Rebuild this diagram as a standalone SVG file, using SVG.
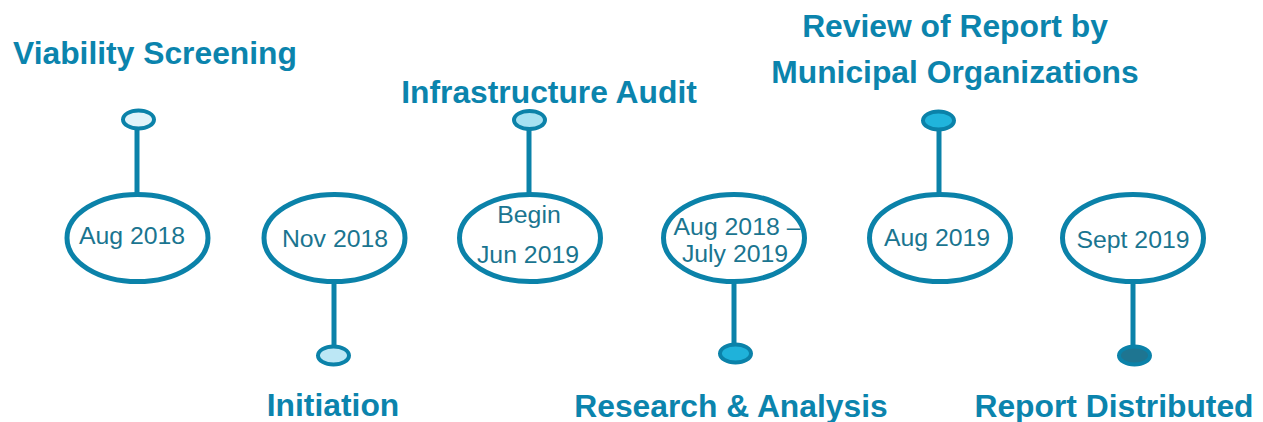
<svg xmlns="http://www.w3.org/2000/svg" width="1263" height="422" viewBox="0 0 1263 422">
  <style>
    .date { fill: #ffffff; stroke: #0b82a9; stroke-width: 5; }
    .dot { stroke: #0b82a9; stroke-width: 4; }
    .stem { stroke: #0b82a9; stroke-width: 5; fill: none; }
    .dtxt { font-family: "Liberation Sans", Arial, sans-serif; font-size: 24.8px; fill: #1a7590; text-anchor: middle; }
    .title { font-family: "Liberation Sans", Arial, sans-serif; font-size: 31.8px; font-weight: bold; fill: #0b84ad; text-anchor: middle; }
  </style>
  <rect width="1263" height="422" fill="#ffffff"/>

  <!-- stems joining each date bubble to its marker dot -->
  <g id="connectors">
    <line class="stem" x1="137" y1="129" x2="137" y2="193"/>
    <line class="stem" x1="334" y1="283" x2="334" y2="346"/>
    <line class="stem" x1="529" y1="130" x2="529" y2="193"/>
    <line class="stem" x1="734" y1="283" x2="734" y2="344"/>
    <line class="stem" x1="939" y1="130" x2="939" y2="193"/>
    <line class="stem" x1="1133" y1="283" x2="1133" y2="346"/>
  </g>

  <g id="viability-screening">
    <ellipse class="date" cx="137.5" cy="238" rx="70.5" ry="43.5"/>
    <text class="dtxt" x="132" y="244">Aug 2018</text>
    <ellipse class="dot" cx="138.5" cy="119.5" rx="15.5" ry="9" fill="#e0f3fa"/>
    <text class="title" x="155" y="64">Viability Screening</text>
  </g>

  <g id="initiation">
    <ellipse class="date" cx="334.5" cy="238" rx="70.5" ry="43.5"/>
    <text class="dtxt" x="335" y="247">Nov 2018</text>
    <ellipse class="dot" cx="333.5" cy="355.5" rx="15.5" ry="9" fill="#bce7f5"/>
    <text class="title" x="333" y="416">Initiation</text>
  </g>

  <g id="infrastructure-audit">
    <ellipse class="date" cx="530" cy="238" rx="70.5" ry="43.5"/>
    <text class="dtxt" x="529" y="223">Begin</text>
    <text class="dtxt" x="528" y="263">Jun 2019</text>
    <ellipse class="dot" cx="529.5" cy="120" rx="15.5" ry="9" fill="#a6e1f2"/>
    <text class="title" x="549" y="103">Infrastructure Audit</text>
  </g>

  <g id="research-analysis">
    <ellipse class="date" cx="734" cy="238" rx="70.5" ry="43.5"/>
    <text class="dtxt" x="737" y="235">Aug 2018 –</text>
    <text class="dtxt" x="735" y="262">July 2019</text>
    <ellipse class="dot" cx="735.5" cy="353.5" rx="15.5" ry="9" fill="#1fb2da"/>
    <text class="title" x="731" y="417">Research &amp; Analysis</text>
  </g>

  <g id="municipal-review">
    <ellipse class="date" cx="940" cy="238" rx="70.5" ry="43.5"/>
    <text class="dtxt" x="937" y="246">Aug 2019</text>
    <ellipse class="dot" cx="938.5" cy="120.5" rx="15.5" ry="9" fill="#20b4dc"/>
    <text class="title" x="955" y="37">Review of Report by</text>
    <text class="title" x="955" y="83">Municipal Organizations</text>
  </g>

  <g id="report-distributed">
    <ellipse class="date" cx="1133" cy="238" rx="70.5" ry="43.5"/>
    <text class="dtxt" x="1133" y="248">Sept 2019</text>
    <ellipse class="dot" cx="1134.5" cy="355.5" rx="15.5" ry="9" fill="#1e7591"/>
    <text class="title" x="1114" y="417">Report Distributed</text>
  </g>
</svg>
